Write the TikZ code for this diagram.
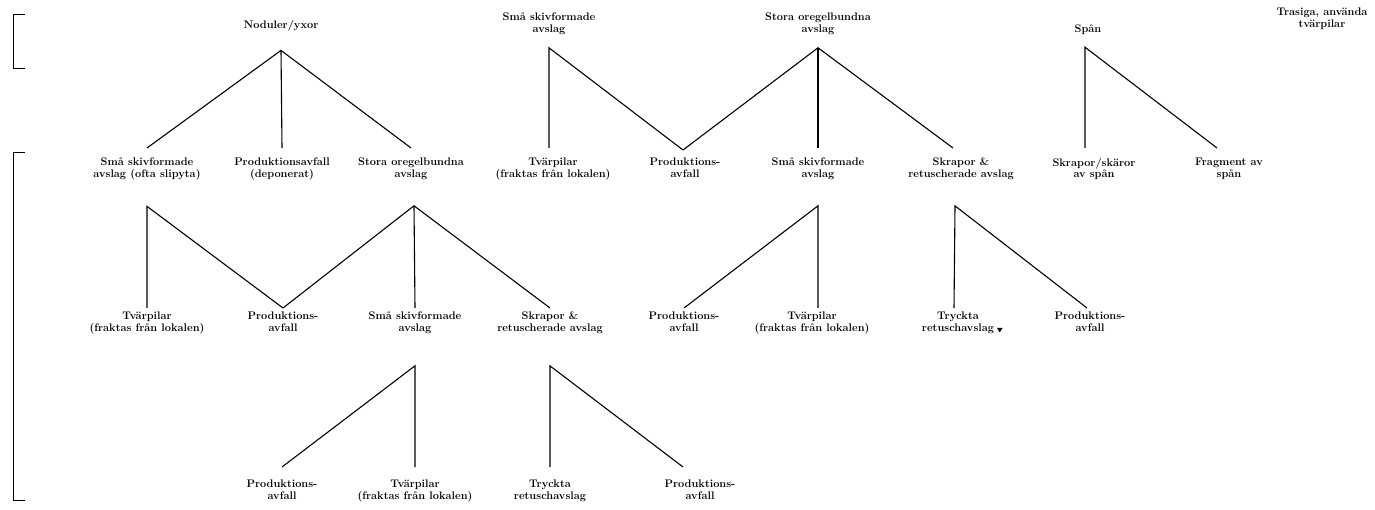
\documentclass[tikz,border=0pt]{standalone}
\usepackage{tikz}

\begin{document}
\begin{tikzpicture}[x=1pt, y=-1pt,
    lbl/.style = {anchor=north, align=center, inner sep=0pt, font=\fontsize{11}{11.5}\selectfont\bfseries},
    edge/.style = {line width=1.1pt},
    brace/.style = {line width=1pt}]
    \useasboundingbox (0,0) rectangle (1375,510);
    \clip (0,0) rectangle (1375,510);

    % klammer
    \draw[brace] (25,15) -- (13,15) -- (13,69) -- (25,69);
    \draw[brace] (25,153) -- (13,153) -- (13,500) -- (25,500);

    % nivå 1
    \node[lbl] (nod)  at (281,20)  {Noduler/yxor};
    \node[lbl] (sma0) at (549,13)  {Små skivformade\\avslag};
    \node[lbl] (sto0) at (818,13)  {Stora oregelbundna\\avslag};
    \node[lbl] (spa0) at (1088,25) {Spån};
    \node[lbl] (tra0) at (1322,8)  {Trasiga, använda\\tvärpilar};

    % nivå 2
    \node[lbl] (sma1) at (147,158)  {Små skivformade\\avslag (ofta slipyta)};
    \node[lbl] (prod1) at (282,158) {Produktionsavfall\\(deponerat)};
    \node[lbl] (sto1) at (411,158)  {Stora oregelbundna\\avslag};
    \node[lbl] (tvar1) at (553,158) {Tvärpilar\\(fraktas från lokalen)};
    \node[lbl] (prod2) at (685,158) {Produktions-\\avfall};
    \node[lbl] (sma2) at (818,158)  {Små skivformade\\avslag};
    \node[lbl] (skr1) at (961,158)  {Skrapor \&\\retuscherade avslag};
    \node[lbl] (ska1) at (1094,158) {Skrapor/skäror\\av spån};
    \node[lbl] (frag1) at (1229,158) {Fragment av\\spån};

    % nivå 3
    \node[lbl] (tvar2) at (147,312)  {Tvärpilar\\(fraktas från lokalen)};
    \node[lbl] (prod3) at (283,312)  {Produktions-\\avfall};
    \node[lbl] (sma3) at (415,312)   {Små skivformade\\avslag};
    \node[lbl] (skr2) at (550,312)   {Skrapor \&\\retuscherade avslag};
    \node[lbl] (prod4) at (684,312)  {Produktions-\\avfall};
    \node[lbl] (tvar3) at (812,312)  {Tvärpilar\\(fraktas från lokalen)};
    \node[lbl] (tryc1) at (958,312)  {Tryckta\\retuschavslag};
    \node[lbl] (prod5) at (1090,312) {Produktions-\\avfall};
    \fill (997,328) -- (1002.5,328) -- (999.7,332.5) -- cycle;

    % nivå 4
    \node[lbl] (prod6) at (282,480) {Produktions-\\avfall};
    \node[lbl] (tvar4) at (415,480) {Tvärpilar\\(fraktas från lokalen)};
    \node[lbl] (tryc2) at (550,480) {Tryckta\\retuschavslag};
    \node[lbl] (prod7) at (700,480) {Produktions-\\avfall};

    % linjer nivå 1 -> 2
    \draw[edge] ([yshift=10pt]sma1.north) -- ([yshift=-19pt]nod.south) -- ([yshift=10pt]sto1.north);
    \draw[edge] ([yshift=-19pt]nod.south) -- ([yshift=10pt]prod1.north);
    \draw[edge] ([yshift=10pt]tvar1.north -| sma0) -- ([yshift=-13pt]sma0.south) -- ([xshift=-2pt,yshift=8pt]prod2.north);
    \draw[edge] ([xshift=-2pt,yshift=8pt]prod2.north) -- ([yshift=-13pt]sto0.south) -- ([xshift=-8pt,yshift=10pt]skr1.north);
    \draw[edge] ([yshift=-13pt]sto0.south) -- ([yshift=10pt]sma2.north);
    \draw[edge] ([xshift=-9pt,yshift=10pt]ska1.north) -- ([xshift=-3pt,yshift=-12pt]spa0.south) -- ([xshift=-12pt,yshift=10pt]frag1.north);

    % linjer nivå 2 -> 3
    \draw[edge] ([yshift=4pt]tvar2.north) -- ([yshift=-26pt]sma1.south) -- ([yshift=4pt]prod3.north);
    \draw[edge] ([yshift=4pt]prod3.north) -- ([xshift=3pt,yshift=-26pt]sto1.south) -- ([yshift=4pt]skr2.north);
    \draw[edge] ([xshift=3pt,yshift=-26pt]sto1.south) -- ([yshift=4pt]sma3.north);
    \draw[edge] ([yshift=4pt]prod4.north) -- ([yshift=-26pt]sma2.south) -- ([xshift=6pt,yshift=4pt]tvar3.north);
    \draw[edge] ([xshift=-4pt,yshift=4pt]tryc1.north) -- ([xshift=-6pt,yshift=-26pt]skr1.south) -- ([xshift=-3pt,yshift=4pt]prod5.north);

    % linjer nivå 3 -> 4
    \draw[edge] ([yshift=13pt]prod6.north) -- ([yshift=-32pt]sma3.south) -- ([yshift=13pt]tvar4.north);
    \draw[edge] ([yshift=13pt]tryc2.north) -- ([yshift=-32pt]skr2.south) -- ([xshift=-17pt,yshift=13pt]prod7.north);
\end{tikzpicture}
\end{document}
